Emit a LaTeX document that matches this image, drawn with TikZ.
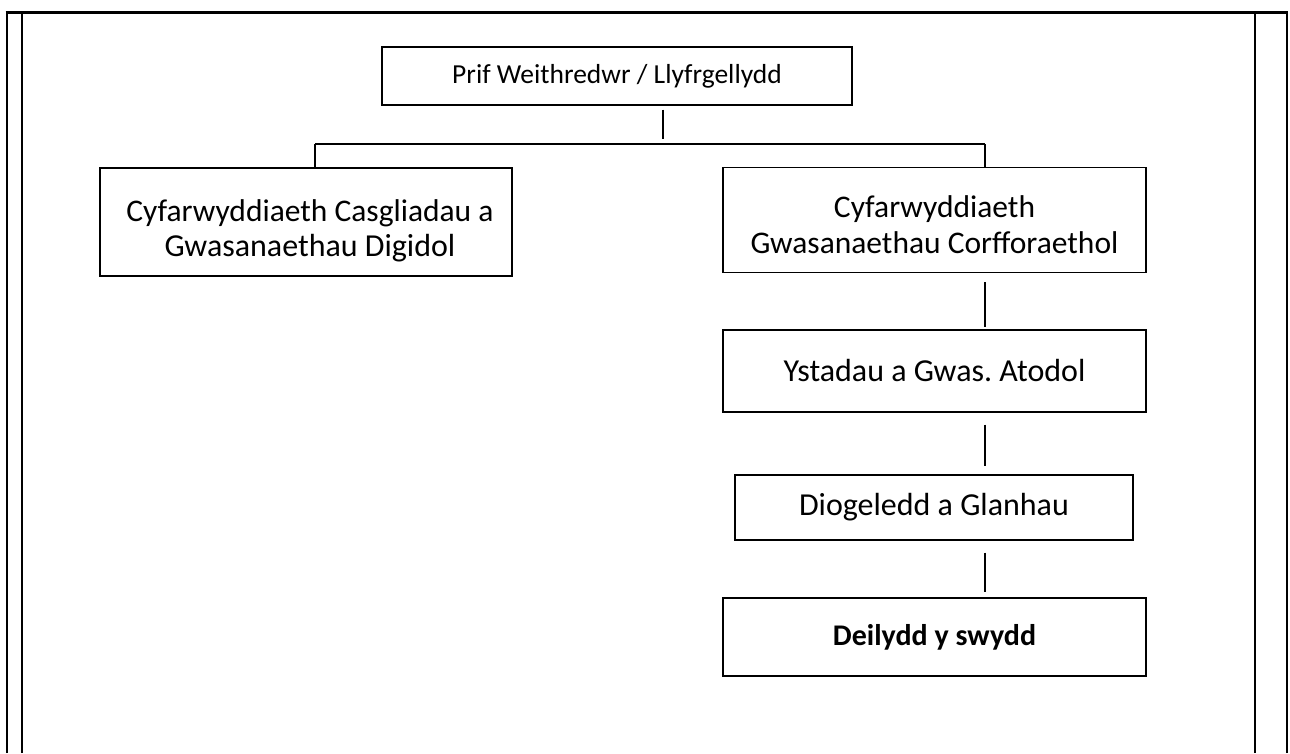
\documentclass[tikz,border=0pt]{standalone}
\usepackage{fontspec}
\setmainfont{Carlito}
\begin{document}
\begin{tikzpicture}[x=1pt,y=-1pt,
  box/.style={draw, line width=1.4pt, inner sep=0pt, align=center, font=\fontsize{32}{35}\selectfont},
  txt/.style={inner sep=0pt, align=center, font=\fontsize{32}{35}\selectfont},
  conn/.style={line width=1.4pt},
  frameline/.style={line width=2.6pt},
  topline/.style={line width=3.6pt}]
\useasboundingbox (0,0) rectangle (1290,753);
% frame
\draw[frameline] (7,753) -- (7,12);
\draw[frameline] (22,753) -- (22,13);
\draw[frameline] (1255,753) -- (1255,13);
\draw[frameline] (1287,753) -- (1287,12);
\draw[topline] (5.7,12.5) -- (1288.3,12.5);
% boxes
\node[box, minimum width=470pt, minimum height=58pt, font=\fontsize{27.5}{33}\selectfont] (top) at (617,76) {Prif Weithredwr / Llyfrgellydd};
\node[box, minimum width=412pt, minimum height=108pt] (left) at (306,222) {};
\node[txt] (leftT) at (310,231) {{\fontsize{31.5}{35}\selectfont Cyfarwyddiaeth Casgliadau a}\\Gwasanaethau Digidol};
\node[box, minimum width=423pt, minimum height=105pt] (r1) at (934.5,220) {};
\node[txt, font=\fontsize{31.5}{36}\selectfont] (r1T) at (934.5,225) {Cyfarwyddiaeth\\Gwasanaethau Corfforaethol};
\node[box, minimum width=423pt, minimum height=82pt] (r2) at (934.5,371) {Ystadau a Gwas.\ Atodol};
\node[box, minimum width=398pt, minimum height=65pt] (r3) at (934,507.5) {Diogeledd a Glanhau};
\node[box, minimum width=423pt, minimum height=78pt, font=\fontsize{30}{35}\selectfont] (r4) at (934.5,637) {\bfseries Deilydd y swydd};
% connectors
\coordinate (j) at (663,144);
\coordinate (jl) at (315,144);
\coordinate (jr) at (985,144);
\draw[conn] ([yshift=-4pt]top.south -| j) -- ([yshift=5pt]j);
\draw[conn] (jl) -- (jr);
\draw[conn] (jl) -- (jl |- left.north);
\draw[conn] (jr) -- (jr |- r1.north);
\draw[conn] ([yshift=-9pt]r1.south -| jr) -- ([yshift=2pt]r2.north -| jr);
\draw[conn] ([yshift=-12pt]r2.south -| jr) -- ([yshift=8pt]r3.north -| jr);
\draw[conn] ([yshift=-12pt]r3.south -| jr) -- ([yshift=5pt]r4.north -| jr);
\end{tikzpicture}
\end{document}
